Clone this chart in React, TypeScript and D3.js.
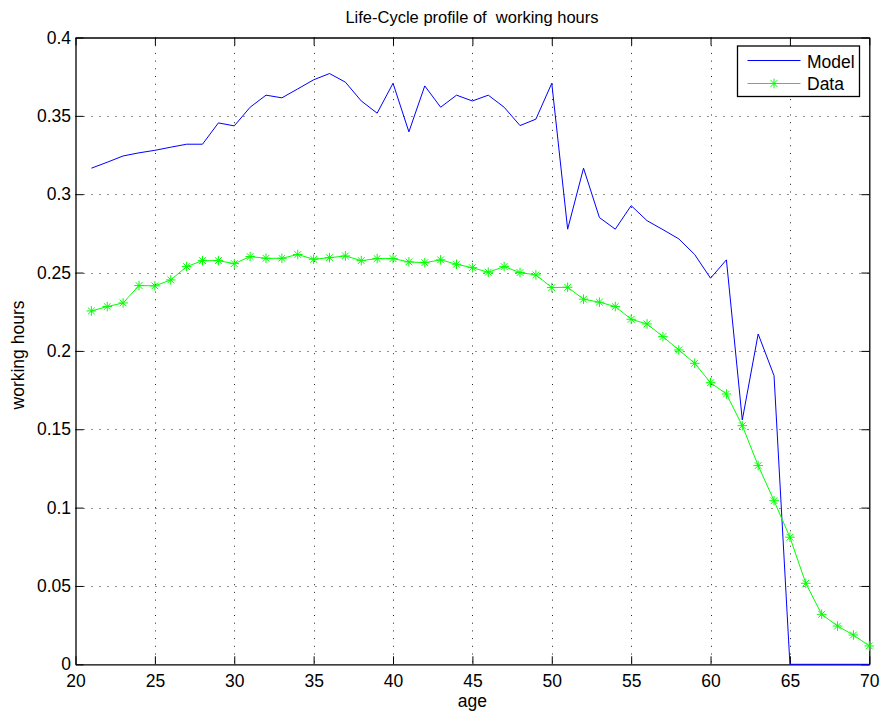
import React, { useRef, useEffect } from "react";
import * as d3 from "d3";

const ages = d3.range(21, 71);

const modelHours = [
  0.3166, 0.3204, 0.3244, 0.3264, 0.328, 0.330, 0.3319, 0.3319, 0.3455, 0.3436,
  0.3555, 0.3632, 0.3615, 0.3672, 0.373, 0.377, 0.3715, 0.3595, 0.3517, 0.3708,
  0.3398, 0.3691, 0.3555, 0.3632, 0.3595, 0.3632, 0.3555, 0.3438, 0.3479, 0.3708,
  0.2777, 0.3166, 0.2851, 0.2777, 0.2927, 0.2831, 0.2774, 0.2715, 0.2615, 0.2464,
  0.2581, 0.1559, 0.2108, 0.1842, 0, 0, 0, 0, 0, 0,
];

const dataHours = [
  0.2255, 0.2283, 0.2306, 0.2417, 0.2415, 0.2453, 0.2538, 0.2576, 0.2576, 0.2557,
  0.2602, 0.2591, 0.2591, 0.2615, 0.2585, 0.2595, 0.2606, 0.2576, 0.2589, 0.2589,
  0.2568, 0.2563, 0.2581, 0.2553, 0.2531, 0.2502, 0.2538, 0.25, 0.2485, 0.2404,
  0.2406, 0.233, 0.2311, 0.2283, 0.2202, 0.2172, 0.2091, 0.2006, 0.1921, 0.1797,
  0.1725, 0.1523, 0.1268, 0.1044, 0.0811, 0.0517, 0.0319, 0.0244, 0.0187, 0.0117,
];

const xTicks = [20, 25, 30, 35, 40, 45, 50, 55, 60, 65, 70];
const yTicks = [0, 0.05, 0.1, 0.15, 0.2, 0.25, 0.3, 0.35, 0.4];

const FONT = "'Liberation Sans', Arial, sans-serif";
const FS = 17.5;

// asterisk marker ( + and x ), r = half size
const starPath = (r: number) => {
  const d = r * 0.7071;
  return `M${-r},0L${r},0M0,${-r}L0,${r}M${-d},${-d}L${d},${d}M${-d},${d}L${d},${-d}`;
};

const App = () => {
  const ref = useRef<SVGSVGElement>(null);

  useEffect(() => {
    const width = 881;
    const height = 711;
    const left = 75.5;
    const right = 869.3;
    const top = 37.5;
    const bottom = 664.3;

    const svg = d3.select(ref.current);
    svg.selectAll("*").remove();

    const x = d3.scaleLinear().domain([20, 70]).range([left, right]);
    const y = d3.scaleLinear().domain([0, 0.4]).range([bottom, top]);

    svg.append("rect").attr("width", width).attr("height", height).attr("fill", "#fff");

    // grid
    const grid = svg.append("g").attr("stroke", "#222").attr("stroke-width", 1);
    xTicks.slice(1, -1).forEach((t) => {
      grid.append("line").attr("x1", Math.round(x(t)) + 0.5).attr("x2", Math.round(x(t)) + 0.5).attr("y1", top).attr("y2", bottom).attr("stroke-dasharray", "1,6.7");
    });
    yTicks.slice(1, -1).forEach((t) => {
      grid.append("line").attr("y1", Math.round(y(t)) + 0.5).attr("y2", Math.round(y(t)) + 0.5).attr("x1", left).attr("x2", right).attr("stroke-dasharray", "1,7");
    });

    // axes (box with inward ticks on all sides)
    const tick = 8;
    const bottomAxis = d3.axisBottom(x).tickValues(xTicks).tickSizeInner(-tick).tickSizeOuter(0).tickPadding(10.5).tickFormat(d3.format("d"));
    const topAxis = d3.axisTop(x).tickValues(xTicks).tickSizeInner(-tick).tickSizeOuter(0).tickFormat(() => "");
    const leftAxis = d3.axisLeft(y).tickValues(yTicks).tickSizeInner(-tick).tickSizeOuter(0).tickPadding(4.5).tickFormat((d) => String(+d));
    const rightAxis = d3.axisRight(y).tickValues(yTicks).tickSizeInner(-tick).tickSizeOuter(0).tickFormat(() => "");

    const axes = [
      svg.append("g").attr("transform", `translate(0,${bottom})`).call(bottomAxis),
      svg.append("g").attr("transform", `translate(0,${top})`).call(topAxis),
      svg.append("g").attr("transform", `translate(${left},0)`).call(leftAxis),
      svg.append("g").attr("transform", `translate(${right},0)`).call(rightAxis),
    ];
    axes.forEach((g) => {
      g.select(".domain").attr("stroke", "#000").attr("stroke-width", 1.3);
      g.selectAll(".tick line").attr("stroke", "#000");
      g.selectAll("text").attr("font-family", FONT).attr("font-size", FS).attr("fill", "#000");
    });

    // series
    const line = d3
      .line<number>()
      .x((_, i) => x(ages[i]))
      .y((d) => y(d));

    svg.append("path").datum(modelHours).attr("d", line).attr("fill", "none").attr("stroke", "#0000ff").attr("stroke-width", 1);
    svg.append("path").datum(dataHours).attr("d", line).attr("fill", "none").attr("stroke", "#00ff00").attr("stroke-width", 1);

    svg
      .append("g")
      .selectAll("path")
      .data(dataHours)
      .enter()
      .append("path")
      .attr("transform", (d, i) => `translate(${x(ages[i])},${y(d)})`)
      .attr("d", starPath(4.8))
      .attr("stroke", "#00ff00")
      .attr("stroke-width", 1)
      .attr("fill", "none");

    // labels
    svg.append("text").attr("x", 472).attr("y", 23).attr("text-anchor", "middle").attr("font-family", FONT).attr("font-size", 16.5).style("white-space", "pre").text("Life-Cycle profile of  working hours");
    svg.append("text").attr("x", (left + right) / 2).attr("y", 707).attr("text-anchor", "middle").attr("font-family", FONT).attr("font-size", FS).text("age");
    svg
      .append("text")
      .attr("transform", `translate(24,355) rotate(-90)`)
      .attr("text-anchor", "middle")
      .attr("font-family", FONT)
      .attr("font-size", FS)
      .text("working hours");

    // legend
    const lg = svg.append("g");
    lg.append("rect").attr("x", 737.5).attr("y", 46).attr("width", 122).attr("height", 50.5).attr("fill", "#fff").attr("stroke", "#000").attr("stroke-width", 1.3);
    lg.append("line").attr("x1", 747.5).attr("x2", 800.5).attr("y1", 60.5).attr("y2", 60.5).attr("stroke", "#0000ff");
    lg.append("line").attr("x1", 747.5).attr("x2", 800.5).attr("y1", 83.5).attr("y2", 83.5).attr("stroke", "#00ff00");
    lg.append("path").attr("transform", "translate(774,83.5)").attr("d", starPath(4.8)).attr("stroke", "#00ff00").attr("fill", "none");
    lg.append("text").attr("x", 807).attr("y", 67.5).attr("font-family", FONT).attr("font-size", FS).text("Model");
    lg.append("text").attr("x", 807).attr("y", 90).attr("font-family", FONT).attr("font-size", FS).text("Data");
  }, []);

  return <svg ref={ref} width={881} height={711} style={{ position: "absolute", left: 0, top: 0 }} />;
};

export default App;
